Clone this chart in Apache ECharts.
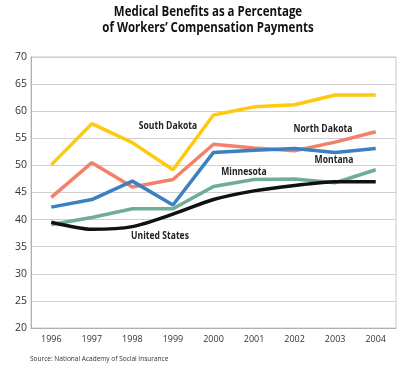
<!DOCTYPE html>
<html><head><meta charset="utf-8">
<script src="https://cdn.jsdelivr.net/npm/echarts@6/dist/echarts.min.js"></script>
<style>html,body{margin:0;padding:0;background:#fff}#c{width:415px;height:366px}</style>
</head><body><div id="c"></div>
<script>
var years = ['1996','1997','1998','1999','2000','2001','2002','2003','2004'];
var southDakota = [50.1, 57.7, 54.2, 49.2, 59.3, 60.8, 61.2, 63.0, 63.0];
var northDakota = [44.1, 50.5, 46.0, 47.4, 53.9, 53.2, 52.7, 54.3, 56.2];
var montana = [42.3, 43.7, 47.1, 42.7, 52.4, 52.8, 53.1, 52.4, 53.1];
var minnesota = [39.1, 40.4, 42.0, 42.0, 46.1, 47.4, 47.5, 46.8, 49.2];
var unitedStates = [39.5, 38.2, 38.7, 41.0, 43.7, 45.3, 46.3, 47.0, 47.0];
var yTicks = {min: 20, max: 70, step: 5};
var titleLines = ['Medical Benefits as a Percentage', 'of Workers\u2019 Compensation Payments'];
var sourceText = 'Source: National Academy of Social Insurance';

var chart = echarts.init(document.getElementById('c'), null, {renderer: 'canvas'});
var font = '"Open Sans", "Noto Sans", sans-serif';
function line(name, data, color, smooth) {
  return {name: name, type: 'line', data: data, symbol: 'none', smooth: smooth || false,
    lineStyle: {color: color, width: 3.5}, itemStyle: {color: color}, z: 3};
}
function txt(text, x, y, size, sx, weight, align, color) {
  return {type: 'text', x: x, y: y, scaleX: sx, z: 10,
    style: {text: text, fontFamily: font, fontWeight: weight, fontSize: size, fill: color,
      textAlign: align, textVerticalAlign: 'middle'}};
}
function lbl(text, x, y) { return txt(text, x, y, 11, 0.78, 'bold', 'center', '#222'); }
chart.setOption({
  animation: false,
  grid: {left: 31, right: 19, top: 57, bottom: 38, show: true, borderColor: '#c8c8c8', borderWidth: 1},
  xAxis: {type: 'category', data: years, boundaryGap: true,
    axisLine: {lineStyle: {color: '#b0b0b0', width: 1}},
    axisTick: {inside: true, length: 4, lineStyle: {color: '#b0b0b0'}},
    axisLabel: {fontFamily: font, fontSize: 9, color: '#333', margin: 7}},
  yAxis: {type: 'value', min: yTicks.min, max: yTicks.max, interval: yTicks.step,
    axisLine: {show: true, lineStyle: {color: '#b0b0b0'}}, axisTick: {show: false},
    splitLine: {lineStyle: {color: '#cfcfcf', width: 1}},
    axisLabel: {fontFamily: font, fontSize: 10.5, color: '#333', margin: 4}},
  series: [
    line('South Dakota', southDakota, '#FFC90E'),
    line('North Dakota', northDakota, '#F3806A'),
    line('Montana', montana, '#3B80C0'),
    line('Minnesota', minnesota, '#6FAE96'),
    line('United States', unitedStates, '#111111', 0.25)
  ],
  graphic: [
    txt(titleLines[0], 208, 12, 14, 0.82, 'bold', 'center', '#111'),
    txt(titleLines[1], 208, 28, 14, 0.82, 'bold', 'center', '#111'),
    lbl('South Dakota', 168, 126),
    lbl('North Dakota', 323, 129),
    lbl('Montana', 334, 160),
    lbl('Minnesota', 244, 172),
    lbl('United States', 160, 236),
    txt(sourceText, 30, 359, 7.5, 0.87, 'normal', 'left', '#333')
  ]
});
</script></body></html>
